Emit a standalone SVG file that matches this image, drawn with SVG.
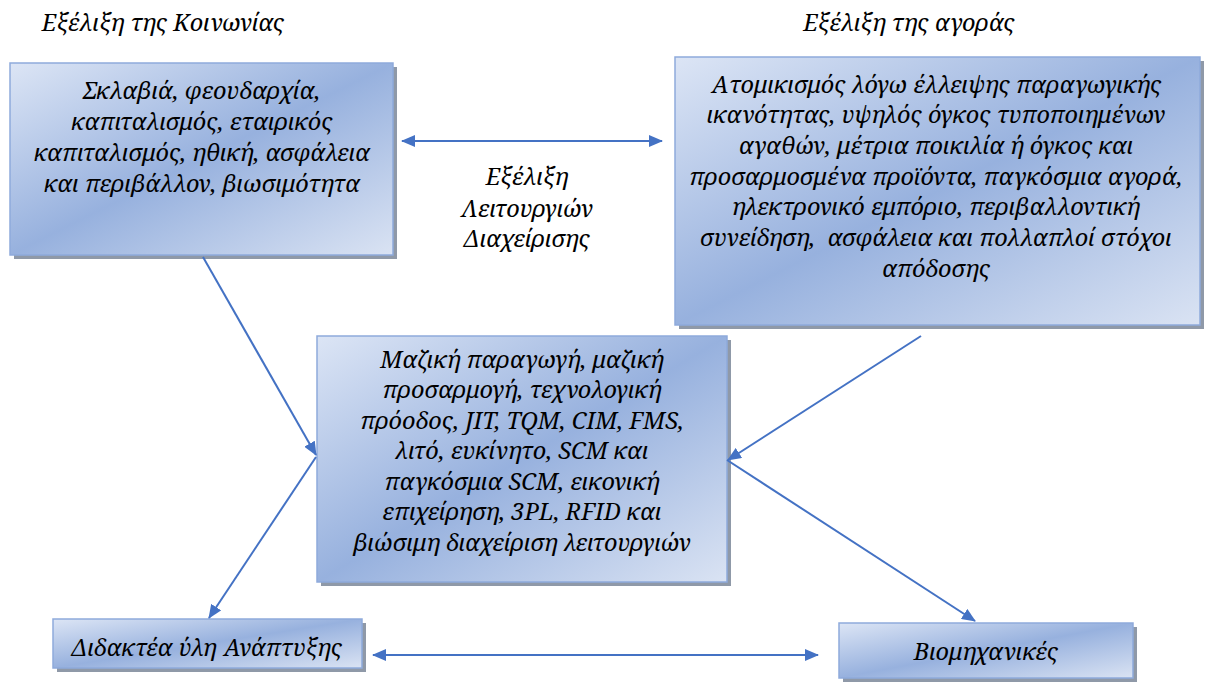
<svg xmlns="http://www.w3.org/2000/svg" width="1207" height="683" viewBox="0 0 1207 683">
  <defs>
    <linearGradient id="boxFill" x1="0" y1="0" x2="1" y2="1">
      <stop offset="0" stop-color="#dce5f5"/>
      <stop offset="0.5" stop-color="#97b1de"/>
      <stop offset="1" stop-color="#dae3f3"/>
    </linearGradient>
    <marker id="arrow" viewBox="0 0 14 12" refX="13" refY="6" markerWidth="14" markerHeight="12" markerUnits="userSpaceOnUse" orient="auto-start-reverse">
      <path d="M0,0 L14,6 L0,12 Z" fill="#4472c4"/>
    </marker>
  </defs>
  <style>
    .shadow { fill: #8f99a8; }
    .box { fill: url(#boxFill); stroke: #8eaadb; stroke-width: 1.5; }
    .t { font-family: "Noto Serif", "Liberation Serif", "DejaVu Serif", serif; font-style: italic; font-size: 23.5px; fill: #000; text-anchor: middle; }
    .conn { stroke: #4472c4; stroke-width: 2; fill: none; marker-end: url(#arrow); }
    .both { marker-start: url(#arrow); }
  </style>

  <rect width="1207" height="683" fill="#ffffff"/>

  <!-- section titles -->
  <text class="t" x="163" y="31">Εξέλιξη της Κοινωνίας</text>
  <text class="t" x="909" y="31">Εξέλιξη της αγοράς</text>

  <!-- society box -->
  <g id="society">
    <rect class="shadow" x="14" y="67" width="383" height="192"/>
    <rect class="box" x="10" y="63" width="383" height="192"/>
    <text class="t" x="202" y="99">Σκλαβιά, φεουδαρχία,</text>
    <text class="t" x="202" y="130">καπιταλισμός, εταιρικός</text>
    <text class="t" x="202" y="161">καπιταλισμός, ηθική, ασφάλεια</text>
    <text class="t" x="202" y="192">και περιβάλλον, βιωσιμότητα</text>
  </g>

  <!-- market box -->
  <g id="market">
    <rect class="shadow" x="679" y="61" width="525" height="268"/>
    <rect class="box" x="675" y="57" width="525" height="268"/>
    <text class="t" x="936" y="93">Ατομικισμός λόγω έλλειψης παραγωγικής</text>
    <text class="t" x="936" y="123">ικανότητας, υψηλός όγκος τυποποιημένων</text>
    <text class="t" x="936" y="154">αγαθών, μέτρια ποικιλία ή όγκος και</text>
    <text class="t" x="936" y="185">προσαρμοσμένα προϊόντα, παγκόσμια αγορά,</text>
    <text class="t" x="936" y="215">ηλεκτρονικό εμπόριο, περιβαλλοντική</text>
    <text class="t" x="936" y="246" xml:space="preserve">συνείδηση,  ασφάλεια και πολλαπλοί στόχοι</text>
    <text class="t" x="936" y="277">απόδοσης</text>
  </g>

  <!-- operations management box -->
  <g id="operations">
    <rect class="shadow" x="321" y="340" width="410" height="246"/>
    <rect class="box" x="317" y="336" width="410" height="246"/>
    <text class="t" x="522" y="368">Μαζική παραγωγή, μαζική</text>
    <text class="t" x="522" y="398">προσαρμογή, τεχνολογική</text>
    <text class="t" x="522" y="429">πρόοδος, JIT, TQM, CIM, FMS,</text>
    <text class="t" x="522" y="459">λιτό, ευκίνητο, SCM και</text>
    <text class="t" x="522" y="490">παγκόσμια SCM, εικονική</text>
    <text class="t" x="522" y="520">επιχείρηση, 3PL, RFID και</text>
    <text class="t" x="522" y="551">βιώσιμη διαχείριση λειτουργιών</text>
  </g>

  <!-- connector label -->
  <g id="evolution-label">
    <text class="t" x="527" y="185">Εξέλιξη</text>
    <text class="t" x="527" y="217">Λειτουργιών</text>
    <text class="t" x="527" y="247">Διαχείρισης</text>
  </g>

  <!-- curriculum box -->
  <g id="curriculum">
    <rect class="shadow" x="57" y="623" width="309" height="49"/>
    <rect class="box" x="53" y="619" width="309" height="49"/>
    <text class="t" x="207" y="656">Διδακτέα ύλη Ανάπτυξης</text>
  </g>

  <!-- industry box -->
  <g id="industry">
    <rect class="shadow" x="843" y="627" width="294" height="55"/>
    <rect class="box" x="839" y="623" width="294" height="55"/>
    <text class="t" x="986" y="660">Βιομηχανικές</text>
  </g>

  <!-- connectors -->
  <g id="connectors">
    <line class="conn both" x1="402" y1="141" x2="662" y2="141"/>
    <line class="conn" x1="203" y1="257" x2="316" y2="455"/>
    <line class="conn" x1="921" y1="336" x2="728" y2="460"/>
    <line class="conn" x1="316" y1="457" x2="209" y2="618"/>
    <line class="conn" x1="727" y1="460" x2="975" y2="621"/>
    <line class="conn both" x1="373" y1="655" x2="818" y2="655"/>
  </g>
</svg>
